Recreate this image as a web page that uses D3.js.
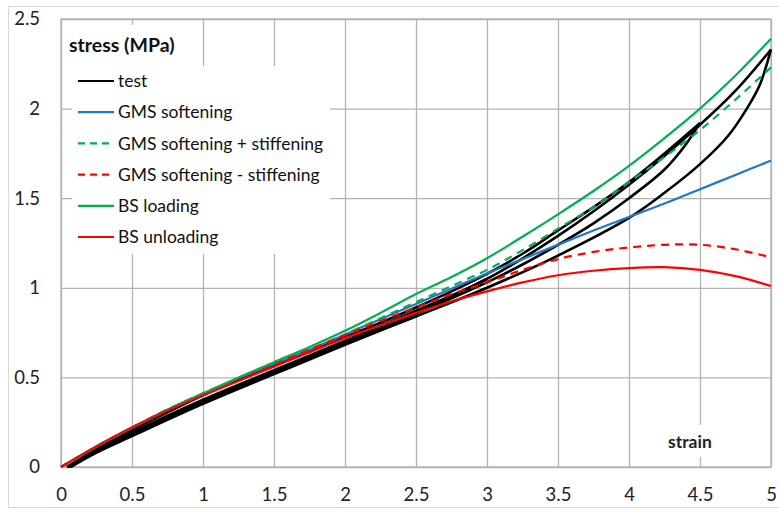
<!DOCTYPE html>
<html>
<head>
<meta charset="utf-8">
<script src="https://cdn.jsdelivr.net/npm/d3@7"></script>
<style>
  html, body { margin: 0; padding: 0; background: #fff; }
  svg { display: block; font-family: Lato, "Open Sans", sans-serif; }
</style>
</head>
<body>
<svg id="chart" width="779" height="510"></svg>
<script>
// ---- data ----
const xTicks = [0, 0.5, 1, 1.5, 2, 2.5, 3, 3.5, 4, 4.5, 5];
const yTicks = [0, 0.5, 1, 1.5, 2, 2.5];

const modelStrain = [0,0.25,0.5,0.75,1,1.25,1.5,1.75,2,2.25,2.5,2.75,3,3.25,3.5,3.75,4,4.25,4.5,4.75,5];
const gmsSoftening      = [0,0.115,0.22,0.32,0.41,0.495,0.575,0.655,0.74,0.825,0.91,0.995,1.08,1.16,1.24,1.32,1.395,1.47,1.55,1.63,1.71];
const gmsSoftStiffPlus  = [0,0.115,0.22,0.32,0.41,0.495,0.575,0.655,0.74,0.83,0.92,1.01,1.10,1.21,1.33,1.45,1.59,1.73,1.88,2.05,2.23];
const gmsSoftStiffMinus = [0,0.115,0.22,0.32,0.41,0.495,0.575,0.655,0.735,0.815,0.89,0.965,1.03,1.10,1.16,1.20,1.225,1.24,1.24,1.215,1.17];
const bsLoading         = [0,0.115,0.22,0.32,0.41,0.50,0.585,0.67,0.76,0.86,0.965,1.06,1.165,1.285,1.41,1.54,1.68,1.835,2.0,2.185,2.39];
const bsUnloading       = [0,0.115,0.22,0.315,0.40,0.48,0.56,0.64,0.72,0.79,0.86,0.925,0.98,1.03,1.07,1.095,1.11,1.115,1.10,1.065,1.01];

// test: loading to 4.5
const testLoadStrain = [0.04,0.25,0.5,0.75,1,1.25,1.5,1.75,2,2.25,2.5,2.75,3,3.25,3.5,3.75,4,4.25,4.5];
const testLoadStress = [0,0.10,0.205,0.305,0.40,0.485,0.565,0.645,0.725,0.805,0.89,0.98,1.078,1.19,1.32,1.45,1.59,1.75,1.92];
// test: unloading from 4.5 (listed by increasing strain)
const testUnload1Strain = [0.06,0.25,0.5,1,1.5,2,2.5,3,3.25,3.5,3.75,4,4.25,4.4,4.5];
const testUnload1Stress = [0,0.085,0.18,0.36,0.525,0.69,0.855,1.03,1.13,1.24,1.36,1.50,1.66,1.80,1.92];
// test: reloading to 5
const testReloadStrain = [0.05,0.5,1,1.5,2,2.5,3,3.5,4,4.5,4.75,5];
const testReloadStress = [0,0.19,0.375,0.54,0.705,0.872,1.05,1.29,1.575,1.91,2.10,2.33];
// test: unloading from 5 (listed by increasing strain)
const testUnload2Strain = [0.07,0.25,0.5,1,1.5,2,2.5,3,3.5,4,4.25,4.5,4.7,4.83,4.92,5];
const testUnload2Stress = [0,0.08,0.172,0.352,0.518,0.682,0.84,1.00,1.18,1.39,1.53,1.69,1.85,2.0,2.13,2.33];
// test: earlier small cycles (loading/unloading up to 3)
const testCycle3Strain = [0.05,0.5,1,1.5,2,2.5,2.75,3];
const testCycle3Stress = [0,0.185,0.368,0.532,0.698,0.862,0.95,1.05];

const legendLabels = ["test","GMS softening","GMS softening + stiffening","GMS softening - stiffening","BS loading","BS unloading"];
const seriesColors = ["#000000","#1f77c9","#00b050","#ff0000","#00b050","#ff0000"];
const seriesDashed = [false,false,true,true,false,false];

// ---- layout ----
const svg = d3.select("#chart");
const L = 61, R = 771, T = 19, B = 467;
const x = d3.scaleLinear().domain([0, 5]).range([L, R]);
const y = d3.scaleLinear().domain([0, 2.5]).range([B, T]);

// outer chart border
svg.append("rect").attr("x", 8.5).attr("y", 6.5).attr("width", 800).attr("height", 501)
  .attr("fill", "#fff").attr("stroke", "#d9d9d9");

// gridlines
const gridColor = "#b3b3b3";
svg.append("g").attr("transform", `translate(0,${B})`)
  .call(d3.axisBottom(x).tickValues(xTicks).tickSize(-(B - T)).tickFormat(""))
  .call(g => g.select(".domain").remove())
  .call(g => g.selectAll("line").attr("stroke", gridColor).attr("stroke-width", 1.3));
svg.append("g").attr("transform", `translate(${L},0)`)
  .call(d3.axisLeft(y).tickValues(yTicks).tickSize(-(R - L)).tickFormat(""))
  .call(g => g.select(".domain").remove())
  .call(g => g.selectAll("line").attr("stroke", gridColor).attr("stroke-width", 1.3));
svg.append("rect").attr("x", L).attr("y", T).attr("width", R - L).attr("height", B - T)
  .attr("fill", "none").attr("stroke", gridColor).attr("stroke-width", 1.3);

// tick labels
const fmt = d => String(d);
svg.append("g").attr("transform", `translate(0,${B})`)
  .call(d3.axisBottom(x).tickValues(xTicks).tickSize(0).tickPadding(21).tickFormat(fmt))
  .call(g => g.select(".domain").remove())
  .call(g => g.selectAll("text").attr("font-size", 18.5).attr("fill", "#222").attr("font-family", "Lato, sans-serif"));
svg.append("g").attr("transform", `translate(${L},0)`)
  .call(d3.axisLeft(y).tickValues(yTicks).tickSize(0).tickPadding(21).tickFormat(fmt))
  .call(g => g.select(".domain").remove())
  .call(g => g.selectAll("text").attr("font-size", 18.5).attr("fill", "#222").attr("font-family", "Lato, sans-serif"));

// curves
const line = d3.line().x(d => x(d[0])).y(d => y(d[1])).curve(d3.curveCatmullRom.alpha(0.5));
const zip = (xs, ys) => xs.map((v, i) => [v, ys[i]]);
const plot = svg.append("g");
function draw(data, color, dashed, w) {
  plot.append("path").datum(data).attr("d", line)
    .attr("fill", "none").attr("stroke", color).attr("stroke-width", w || 2.2)
    .attr("stroke-dasharray", dashed ? "8,6" : null)
    .attr("stroke-linejoin", "round");
}
draw(zip(testCycle3Strain, testCycle3Stress), seriesColors[0], false, 2.8);
draw(zip(testLoadStrain, testLoadStress), seriesColors[0], false, 2.6);
draw(zip(testUnload1Strain, testUnload1Stress), seriesColors[0], false, 2.6);
draw(zip(testReloadStrain, testReloadStress), seriesColors[0], false, 2.6);
draw(zip(testUnload2Strain, testUnload2Stress), seriesColors[0], false, 2.6);
draw(zip(modelStrain, gmsSoftening), seriesColors[1], seriesDashed[1]);
draw(zip(modelStrain, gmsSoftStiffPlus), seriesColors[2], seriesDashed[2]);
draw(zip(modelStrain, gmsSoftStiffMinus), seriesColors[3], seriesDashed[3]);
draw(zip(modelStrain, bsLoading), seriesColors[4], seriesDashed[4]);
draw(zip(modelStrain, bsUnloading), seriesColors[5], seriesDashed[5]);

// axis title boxes
svg.append("rect").attr("x", 64).attr("y", 25).attr("width", 134).attr("height", 42).attr("fill", "#fff");
svg.append("text").attr("x", 69).attr("y", 52).attr("font-size", 19.5).attr("font-weight", "bold")
  .attr("fill", "#111").text("stress (MPa)");
svg.append("rect").attr("x", 662).attr("y", 425).attr("width", 62).attr("height", 32).attr("fill", "#fff");
svg.append("text").attr("x", 668).attr("y", 448).attr("font-size", 17.5).attr("font-weight", "bold")
  .attr("fill", "#222").text("strain");

// legend
const lg = svg.append("g");
lg.append("rect").attr("x", 72).attr("y", 66).attr("width", 258).attr("height", 188).attr("fill", "#fff");
legendLabels.forEach((lab, i) => {
  const yy = 81 + i * 31.2;
  lg.append("line").attr("x1", 78).attr("x2", 114).attr("y1", yy).attr("y2", yy)
    .attr("stroke", seriesColors[i]).attr("stroke-width", 2.2)
    .attr("stroke-dasharray", seriesDashed[i] ? "7,5" : null);
  lg.append("text").attr("x", 118).attr("y", yy).attr("dy", "0.35em")
    .attr("font-size", 17.5).attr("fill", "#111").text(lab);
});
</script>
</body>
</html>
